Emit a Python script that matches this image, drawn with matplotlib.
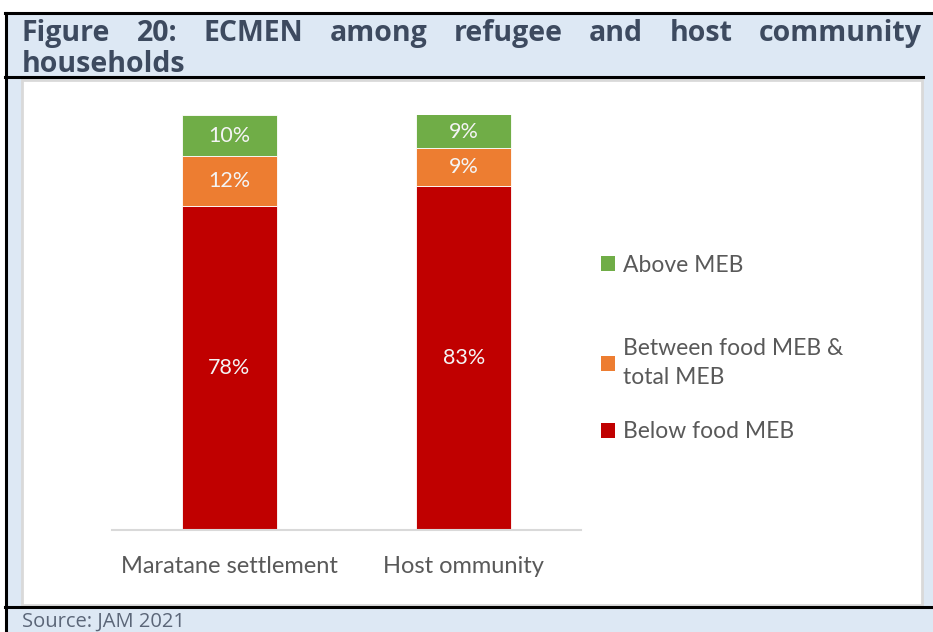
import matplotlib
matplotlib.use("Agg")
import matplotlib.pyplot as plt
from matplotlib.patches import Rectangle, Patch

# Data
categories = ["Maratane settlement", "Host ommunity"]
below_food_meb = [78, 83]
between_meb = [12, 9]
above_meb = [10, 9]
series_names = ["Above MEB", "Between food MEB &\ntotal MEB", "Below food MEB"]
series_colors = ["#70AD47", "#ED7D31", "#C00000"]

title_line1 = "Figure 20: ECMEN among refugee and host community"
title_line2 = "households"
source_text = "Source: JAM 2021"

W, H = 933, 632
fig = plt.figure(figsize=(W / 100, H / 100), dpi=100)
fig.patch.set_facecolor("white")

def fx(px):
    return px / W

def fy(py):
    return 1 - py / H

band = "#DDE8F4"
# Light-blue frame behind the header, chart box and footer
fig.add_artist(Rectangle((fx(6), 0), fx(933 - 6), fy(12), transform=fig.transFigure,
                         facecolor=band, edgecolor="none", zorder=0))
# White chart box
fig.add_artist(Rectangle((fx(22), fy(605)), fx(922 - 22), (605 - 80) / H,
                         transform=fig.transFigure, facecolor="white",
                         edgecolor="#D9D9D9", linewidth=2, zorder=1))
# Black rules
line_kw = dict(transform=fig.transFigure, color="black", linewidth=2.2, zorder=2)
fig.add_artist(plt.Line2D([fx(5), 1], [fy(12.5), fy(12.5)], **line_kw))
fig.add_artist(plt.Line2D([fx(5), fx(923)], [fy(77), fy(77)], **line_kw))
fig.add_artist(plt.Line2D([fx(5), 1], [fy(606.5), fy(606.5)], **line_kw))
fig.add_artist(plt.Line2D([fx(5.5), fx(5.5)], [0, fy(12.5)], **line_kw))

# Justified title
title_kw = dict(fontfamily="Open Sans", fontweight="bold", fontsize=20.5,
                color="#3D4A5F", zorder=3)
canvas = fig.canvas
renderer = canvas.get_renderer()
words = title_line1.split(" ")
texts = [fig.text(0, fy(41), w, va="baseline", ha="left", **title_kw) for w in words]
widths = [t.get_window_extent(renderer).width for t in texts]
left, right = 22, 922
gap = (right - left - sum(widths)) / (len(words) - 1)
x = left
for t, wdt in zip(texts, widths):
    t.set_x(fx(x))
    x += wdt + gap
fig.text(fx(left), fy(72), title_line2, va="baseline", ha="left", **title_kw)

fig.text(fx(22), fy(627), source_text, va="baseline", ha="left",
         fontfamily="Open Sans", fontsize=14.5, color="#5B6678", zorder=3)

# Stacked bar chart
ax = fig.add_axes([fx(112), fy(530), fx(581 - 112), (530 - 115) / H])
ax.set_zorder(3)
ax.patch.set_alpha(0)
xpos = list(range(len(categories)))
bar_w = 0.405
stacks = [below_food_meb, between_meb, above_meb]
stack_colors = series_colors[::-1]
bottoms = [0] * len(categories)
for vals, col in zip(stacks, stack_colors):
    bars = ax.bar(xpos, vals, bar_w, bottom=bottoms, color=col,
                  edgecolor="white", linewidth=0.6)
    ax.bar_label(bars, labels=[f"{v}%" for v in vals], label_type="center",
                 color="#F4F4F4", fontfamily="Lato", fontsize=15.5)
    bottoms = [b + v for b, v in zip(bottoms, vals)]

ax.set_xlim(-0.5, 1.5)
ax.set_ylim(0, 100)
ax.set_yticks([])
ax.set_xticks(xpos)
ax.set_xticklabels(categories, fontfamily="Lato", fontsize=17, color="#595959")
ax.tick_params(axis="x", length=0, pad=19)
for side in ("top", "right", "left"):
    ax.spines[side].set_visible(False)
ax.spines["bottom"].set_color("#D9D9D9")
ax.spines["bottom"].set_linewidth(1.5)

# Legend entries placed individually
legend_rows = [(0, 265), (1, 363), (2, 432)]
for idx, ypx in legend_rows:
    handle = Patch(facecolor=series_colors[idx], edgecolor="none")
    leg = fig.legend([handle], [series_names[idx]], loc="center left",
                     bbox_to_anchor=(fx(592), fy(ypx)), frameon=False,
                     prop={"family": "Lato", "size": 16.5}, handlelength=0.62,
                     handleheight=0.62, handletextpad=0.35, borderaxespad=0,
                     labelcolor="#595959")
    for t in leg.get_texts():
        t.set_linespacing(1.45)
    leg.set_zorder(4)

fig.savefig("out.png", dpi=100)
